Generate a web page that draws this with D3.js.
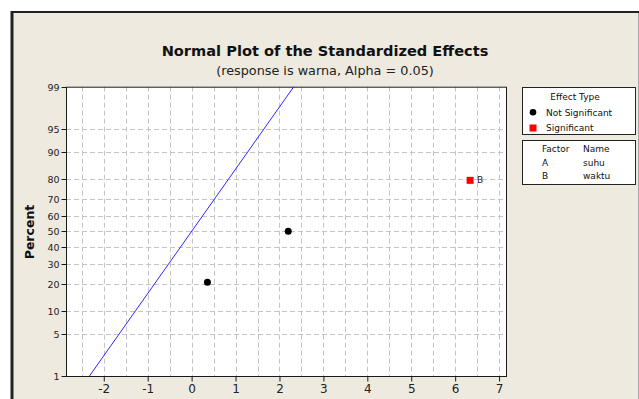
<!DOCTYPE html>
<html>
<head>
<meta charset="utf-8">
<script src="https://cdn.jsdelivr.net/npm/d3@7/dist/d3.min.js"></script>
<style>
  html, body { margin: 0; padding: 0; background: #ffffff; }
  svg { display: block; }
  text { font-family: "DejaVu Sans", sans-serif; }
</style>
</head>
<body>
<svg id="chart" width="639" height="399"></svg>
<script>
// ---- data ----
const effectValues = [0.36, 2.20, 6.34];
const effectPercents = [20.6, 50, 79.4];
const effectLabels = ["", "", "B"];
const effectSignificant = [false, false, true];

const lineEffects = [-2.326, 2.326];
const linePercents = [1, 99];

const xTicks = [-2, -1, 0, 1, 2, 3, 4, 5, 6, 7];
const xGrid = [-2.5, -2, -1.5, -1, -0.5, 0, 0.5, 1, 1.5, 2, 2.5, 3, 3.5, 4, 4.5, 5, 5.5, 6, 6.5, 7];
const yTicks = [1, 5, 10, 20, 30, 40, 50, 60, 70, 80, 90, 95, 99];

const legendTypes = ["Not Significant", "Significant"];
const factorCodes = ["A", "B"];
const factorNames = ["suhu", "waktu"];

const titleText = "Normal Plot of the Standardized Effects";
const subtitleText = "(response is warna, Alpha = 0.05)";
const yLabel = "Percent";

// inverse normal CDF (Acklam)
function qnorm(p) {
  const a = [-3.969683028665376e+01, 2.209460984245205e+02, -2.759285104469687e+02, 1.383577518672690e+02, -3.066479806614716e+01, 2.506628277459239e+00];
  const b = [-5.447609879822406e+01, 1.615858368580409e+02, -1.556989798598866e+02, 6.680131188771972e+01, -1.328068155288572e+01];
  const c = [-7.784894002430293e-03, -3.223964580411365e-01, -2.400758277161838e+00, -2.549671348254878e+00, 4.374664141464968e+00, 2.938163982698783e+00];
  const d = [7.784695709041462e-03, 3.224671290700398e-01, 2.445134137142996e+00, 3.754408661907416e+00];
  const pl = 0.02425, ph = 1 - pl;
  let q, r;
  if (p < pl) { q = Math.sqrt(-2 * Math.log(p)); return (((((c[0]*q+c[1])*q+c[2])*q+c[3])*q+c[4])*q+c[5]) / ((((d[0]*q+d[1])*q+d[2])*q+d[3])*q+1); }
  if (p <= ph) { q = p - 0.5; r = q*q; return (((((a[0]*r+a[1])*r+a[2])*r+a[3])*r+a[4])*r+a[5])*q / (((((b[0]*r+b[1])*r+b[2])*r+b[3])*r+b[4])*r+1); }
  q = Math.sqrt(-2 * Math.log(1 - p)); return -(((((c[0]*q+c[1])*q+c[2])*q+c[3])*q+c[4])*q+c[5]) / ((((d[0]*q+d[1])*q+d[2])*q+d[3])*q+1);
}

const svg = d3.select("#chart");

// frame
svg.append("rect").attr("x", 12).attr("y", 12).attr("width", 626).attr("height", 400)
  .attr("fill", "#EEEAE0");
svg.append("line").attr("x1", 11).attr("x2", 639).attr("y1", 12).attr("y2", 12)
  .attr("stroke", "#222").attr("stroke-width", 2);
svg.append("line").attr("x1", 12).attr("x2", 12).attr("y1", 11).attr("y2", 399)
  .attr("stroke", "#222").attr("stroke-width", 3);
svg.append("line").attr("x1", 638.5).attr("x2", 638.5).attr("y1", 13).attr("y2", 399)
  .attr("stroke", "#a8a8a8").attr("stroke-width", 1);

const plot = { left: 66, right: 507, top: 86.7, bottom: 376 };

const x = d3.scaleLinear().domain([-2.86, 7.18]).range([plot.left, plot.right]);
const zScale = d3.scaleLinear().domain([qnorm(0.01), qnorm(0.99)]).range([plot.bottom, plot.top]);
const y = p => zScale(qnorm(p / 100));

// plot background
svg.append("rect").attr("x", plot.left).attr("y", plot.top)
  .attr("width", plot.right - plot.left).attr("height", plot.bottom - plot.top)
  .attr("fill", "#ffffff");

// grid
const grid = svg.append("g").attr("stroke", "#c4c4c4").attr("stroke-width", 1).attr("stroke-dasharray", "5,3");
grid.selectAll("line.v").data(xGrid).join("line").attr("class", "v")
  .attr("x1", d => Math.round(x(d)) + 0.5).attr("x2", d => Math.round(x(d)) + 0.5)
  .attr("y1", plot.top).attr("y2", plot.bottom);
grid.selectAll("line.h").data(yTicks.slice(1, -1)).join("line").attr("class", "h")
  .attr("y1", d => Math.round(y(d)) + 0.5).attr("y2", d => Math.round(y(d)) + 0.5)
  .attr("x1", plot.left).attr("x2", plot.right);

// plot border
svg.append("rect").attr("x", plot.left + 0.5).attr("y", plot.top + 0.5)
  .attr("width", plot.right - plot.left - 1).attr("height", plot.bottom - plot.top)
  .attr("fill", "none").attr("stroke", "#1a1a1a").attr("stroke-width", 1);

// x axis
const xAxis = svg.append("g").attr("transform", `translate(0,${plot.bottom + 0.5})`)
  .call(d3.axisBottom(x).tickValues(xTicks).tickSize(5).tickPadding(3).tickFormat(d => String(d)));
xAxis.select(".domain").remove();
xAxis.selectAll("line").attr("stroke", "#1a1a1a");
xAxis.selectAll("text").attr("font-size", "12px").attr("fill", "#222");

// y axis
const yAxis = svg.append("g").attr("transform", `translate(${plot.left + 0.5},0)`);
const yt = yAxis.selectAll("g.yt").data(yTicks).join("g").attr("class", "yt")
  .attr("transform", d => `translate(0,${Math.round(y(d)) + 0.5})`);
yt.append("line").attr("x1", -5).attr("x2", 0).attr("stroke", "#1a1a1a");
yt.append("text").attr("x", -7).attr("dy", "0.35em").attr("text-anchor", "end")
  .attr("font-size", "9.5px").attr("fill", "#222").text(d => d);

// y label
svg.append("text").attr("transform", `translate(34,232) rotate(-90)`)
  .attr("text-anchor", "middle").attr("font-size", "12.5px").attr("font-weight", "bold")
  .attr("fill", "#111").text(yLabel);

// titles
svg.append("text").attr("x", 325).attr("y", 56).attr("text-anchor", "middle")
  .attr("font-size", "14.6px").attr("font-weight", "bold").attr("fill", "#111").text(titleText);
svg.append("text").attr("x", 325).attr("y", 75).attr("text-anchor", "middle")
  .attr("font-size", "12.8px").attr("fill", "#222").text(subtitleText);

// fitted line
svg.append("line")
  .attr("x1", x(lineEffects[0])).attr("y1", y(linePercents[0]))
  .attr("x2", x(lineEffects[1])).attr("y2", y(linePercents[1]))
  .attr("stroke", "#2a2aff").attr("stroke-width", 1);

// points
const pts = effectValues.map((v, i) => ({ v, p: effectPercents[i], lab: effectLabels[i], sig: effectSignificant[i] }));
svg.selectAll("circle.pt").data(pts.filter(d => !d.sig)).join("circle").attr("class", "pt")
  .attr("cx", d => x(d.v)).attr("cy", d => y(d.p)).attr("r", 3.5).attr("fill", "#000");
svg.selectAll("rect.pt").data(pts.filter(d => d.sig)).join("rect").attr("class", "pt")
  .attr("x", d => x(d.v) - 3.5).attr("y", d => y(d.p) - 3.5).attr("width", 7).attr("height", 7)
  .attr("fill", "#ff0000");
svg.selectAll("text.ptl").data(pts.filter(d => d.lab)).join("text").attr("class", "ptl")
  .attr("x", d => x(d.v) + 7).attr("y", d => y(d.p)).attr("dy", "0.35em")
  .attr("font-size", "9px").attr("fill", "#222").text(d => d.lab);

// legend 1
const lg = svg.append("g");
lg.append("rect").attr("x", 522.5).attr("y", 87.5).attr("width", 113).attr("height", 47)
  .attr("fill", "#fff").attr("stroke", "#222");
lg.append("text").attr("x", 575).attr("y", 99.5).attr("text-anchor", "middle")
  .attr("font-size", "9px").attr("fill", "#111").text("Effect Type");
lg.selectAll("text.lt").data(legendTypes).join("text").attr("class", "lt")
  .attr("x", 546).attr("y", (d, i) => 115.5 + i * 15.5)
  .attr("font-size", "9px").attr("fill", "#111").text(d => d);
lg.append("circle").attr("cx", 533).attr("cy", 112.3).attr("r", 3.3).attr("fill", "#000");
lg.append("rect").attr("x", 529.5).attr("y", 124.5).attr("width", 7).attr("height", 7).attr("fill", "#ff0000");

// legend 2
const lf = svg.append("g");
lf.append("rect").attr("x", 522.5).attr("y", 140.5).attr("width", 113).attr("height", 44)
  .attr("fill", "#fff").attr("stroke", "#222");
lf.append("text").attr("x", 542).attr("y", 152).attr("font-size", "9px").attr("fill", "#111").text("Factor");
lf.append("text").attr("x", 583).attr("y", 152).attr("font-size", "9px").attr("fill", "#111").text("Name");
lf.selectAll("text.fc").data(factorCodes).join("text").attr("class", "fc")
  .attr("x", 542).attr("y", (d, i) => 165.5 + i * 13.5).attr("font-size", "9px").attr("fill", "#111").text(d => d);
lf.selectAll("text.fn").data(factorNames).join("text").attr("class", "fn")
  .attr("x", 583).attr("y", (d, i) => 165.5 + i * 13.5).attr("font-size", "9px").attr("fill", "#111").text(d => d);
</script>
</body>
</html>
